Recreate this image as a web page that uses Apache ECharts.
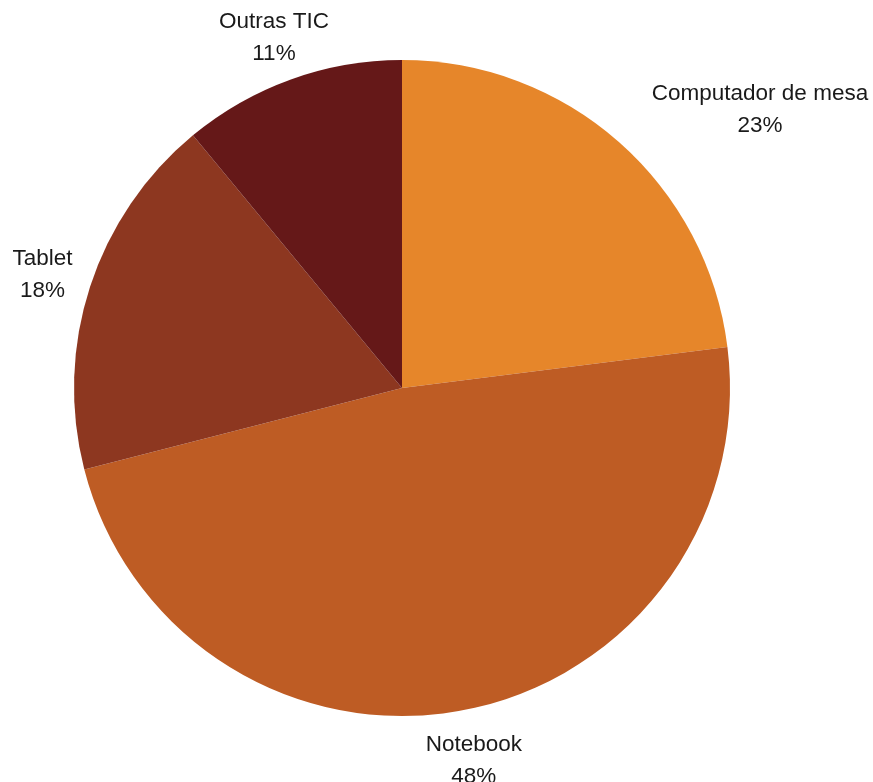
<!DOCTYPE html>
<html>
<head>
<meta charset="utf-8">
<script src="https://cdn.jsdelivr.net/npm/echarts@6/dist/echarts.min.js"></script>
<style>
  html, body { margin: 0; padding: 0; background: #fff; }
  #main { width: 873px; height: 782px; }
</style>
</head>
<body>
<div id="main"></div>
<script>
// dados do gráfico
const categories = ['Computador de mesa', 'Notebook', 'Tablet', 'Outras TIC'];
const values = [23, 48, 18, 11];
const colors = ['#E6862A', '#BE5C24', '#8D3720', '#651818'];

const myChart = echarts.init(document.getElementById('main'));

const pieData = categories.map((name, i) => ({
  name: name,
  value: values[i],
  itemStyle: { color: colors[i] }
}));

// anel transparente só para posicionar os rótulos (centralizados)
const labelOffsets = [[108, 5], [1, 1], [0, 4], [0, 5]];
const labelData = categories.map((name, i) => ({
  name: name,
  value: values[i],
  label: { offset: labelOffsets[i] }
}));

const option = {
  animation: false,
  series: [
    {
      type: 'pie',
      center: [402, 388],
      radius: [0, 328],
      startAngle: 90,
      clockwise: true,
      label: { show: false },
      labelLine: { show: false },
      itemStyle: { borderWidth: 0 },
      data: pieData
    },
    {
      type: 'pie',
      center: [402, 388],
      radius: [330, 420],
      startAngle: 90,
      clockwise: true,
      silent: true,
      itemStyle: { color: 'rgba(0,0,0,0)', borderWidth: 0 },
      label: {
        show: true,
        position: 'inside',
        formatter: (p) => p.name + '\n' + p.value + '%',
        fontFamily: 'Liberation Sans, Arial, sans-serif',
        fontSize: 22.5,
        lineHeight: 32,
        color: '#1a1a1a',
        align: 'center'
      },
      labelLine: { show: false },
      data: labelData
    }
  ]
};

option && myChart.setOption(option);
</script>
</body>
</html>
